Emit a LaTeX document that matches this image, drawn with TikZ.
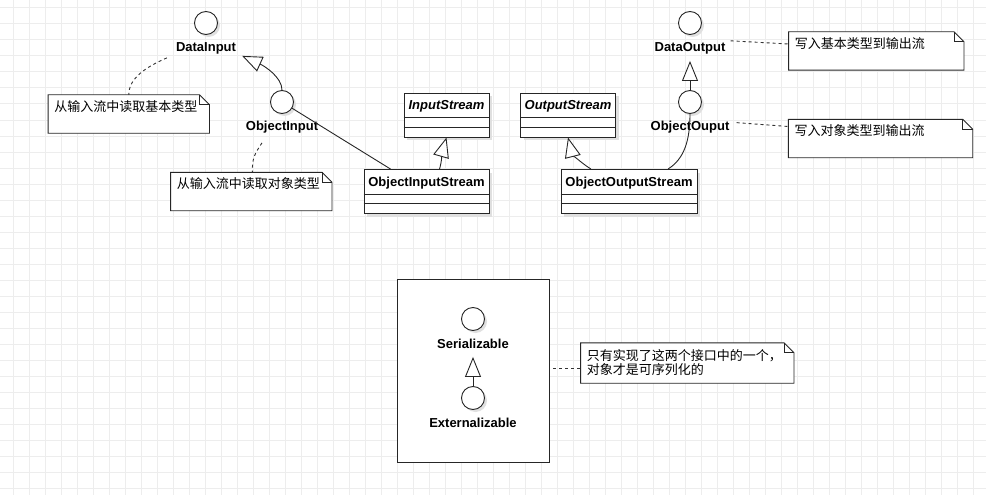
\documentclass[tikz,border=0pt]{standalone}
\usepackage{fontspec}
\setmainfont{Liberation Sans}
\newfontfamily\cjk{Noto Sans CJK SC}
\usetikzlibrary{arrows.meta,shadows}

\tikzset{
  gridline/.style={gray!14, line width=1pt},
  link/.style={black!85, line width=0.9pt},
  iface/.style={circle, draw=black!85, line width=0.9pt, fill=white,
    minimum size=23pt, inner sep=0pt,
    drop shadow={fill=black!12, opacity=1, shadow xshift=2.5pt, shadow yshift=-2.5pt}},
  ifacename/.style={anchor=base, inner sep=1pt, font=\bfseries\fontsize{13}{15}\selectfont},
  classbox/.style={rectangle, draw=black!85, line width=0.9pt, fill=white,
    inner sep=0pt, minimum height=44pt,
    drop shadow={fill=black!12, opacity=1, shadow xshift=3pt, shadow yshift=-3pt}},
  classname/.style={anchor=base, inner sep=0pt, font=\bfseries\fontsize{13}{15}\selectfont},
  notebox/.style={rectangle, inner sep=0pt},
  notetext/.style={anchor=base west, inner sep=0pt, align=left,
    font=\cjk\fontsize{13}{14}\selectfont},
  inherit/.style={link, -{Triangle[length=20pt, width=16pt, fill=white]}},
  noteline/.style={black!80, line width=0.9pt, dash pattern=on 3pt off 3pt},
}

\begin{document}
\begin{tikzpicture}[x=1pt, y=-1pt]
  \useasboundingbox (0,0) rectangle (986,495);
  % grid
  \foreach \gx in {13,29,...,989}
    \draw[gridline] (\gx,0) -- (\gx,495);
  \foreach \gy in {8,24,...,488}
    \draw[gridline] (0,\gy) -- (986,\gy);

  % serialization frame
  \node[rectangle, draw=black!85, line width=0.9pt, fill=white,
    minimum width=152pt, minimum height=183pt] (frame) at (473,371) {};

  % interfaces
  \foreach \nm/\cx/\cy/\txt in {%
    di/206/23/DataInput,
    oi/282/102/ObjectInput,
    do/690/23/DataOutput,
    oo/690/102/ObjectOuput,
    ser/473/319/Serializable,
    ext/473/398/Externalizable
    } {
    \node[iface] (\nm) at (\cx,\cy) {};
    \node[ifacename] (\nm lbl) at (\cx,\cy+29) {\txt};
  }

  % classes
  \foreach \nm/\cx/\cy/\w/\txt in {%
    is/446.5/115/85pt/\textit{InputStream},
    ois/426.5/191.5/125pt/ObjectInputStream,
    os/568/115/95pt/\textit{OutputStream},
    oos/629/191.5/136pt/ObjectOutputStream
    } {
    \node[classbox, minimum width=\w] (\nm) at (\cx,\cy) {};
    \draw[link] ([yshift=-25pt]\nm.north west) -- ([yshift=-25pt]\nm.north east)
      ([yshift=-34.5pt]\nm.north west) -- ([yshift=-34.5pt]\nm.north east);
    \node[classname] (\nm lbl) at ([yshift=-17pt]\nm.north) {\txt};
  }

  % notes
  \foreach \nm/\cx/\cy/\w/\h in {%
    note1/128.8/114/161pt/38pt,
    note2/251.3/191.5/161pt/38pt,
    note3/876.3/51/175pt/38pt,
    note4/880.5/138.5/184pt/38pt,
    note5/687.3/363/213pt/40pt
    } {
    \node[notebox, minimum width=\w, minimum height=\h] (\nm) at (\cx,\cy) {};
    \draw[link, fill=white] (\nm.north west) -- ([xshift=-10pt]\nm.north east)
      -- ([yshift=-10pt]\nm.north east) -- (\nm.south east) -- (\nm.south west) -- cycle;
    \draw[link] ([xshift=-10pt]\nm.north east) -- ([shift={(-10pt,-10pt)}]\nm.north east)
      -- ([yshift=-10pt]\nm.north east);
  }
  \node[notetext] (note1txt) at ([shift={(6pt,-16.5pt)}]note1.north west) {从输入流中读取基本类型};
  \node[notetext] (note2txt) at ([shift={(6pt,-16.5pt)}]note2.north west) {从输入流中读取对象类型};
  \node[notetext] (note3txt) at ([shift={(6pt,-16.5pt)}]note3.north west) {写入基本类型到输出流};
  \node[notetext] (note4txt) at ([shift={(6pt,-16.5pt)}]note4.north west) {写入对象类型到输出流};
  \node[notetext, anchor=north west] (note5txt) at ([shift={(6pt,-6pt)}]note5.north west)
    {只有实现了这两个接口中的一个，\\对象才是可序列化的};

  % generalizations
  \draw[inherit] (oi.north) .. controls +(0,-13) and +(22,10) .. ([xshift=5pt]dilbl.south east);
  \draw[inherit] (oo.north) -- ([yshift=-26pt]do.south);
  \draw[inherit] (ext.north) -- ([yshift=-26pt]ser.south);
  \draw[inherit] ([xshift=13pt]ois.north) .. controls +(2,-6) and +(-4,14) .. (is.south);
  \draw[inherit] ([xshift=-38pt]oos.north) .. controls +(-10,-6) and +(4,16) .. (os.south);

  % realizations
  \draw[link] (oi) -- ([xshift=27pt]ois.north west);
  \draw[link] (oo.south) .. controls +(0,27) and +(16,-10) .. ([xshift=39pt]oos.north);

  % note anchors
  \draw[noteline] ([shift={(-8pt,-2pt)}]dilbl.south west) .. controls +(-18,8) and +(0,-18) .. (note1.north);
  \draw[noteline] ([shift={(-20pt,-8pt)}]oilbl.south) .. controls +(-8,12) and +(0,-14) .. ([xshift=1pt]note2.north);
  \draw[noteline] ([shift={(4pt,8pt)}]dolbl.east) -- ([yshift=7pt]note3.west);
  \draw[noteline] ([shift={(6pt,5pt)}]oolbl.east) -- ([yshift=12pt]note4.west);
  \draw[noteline] ([shift={(4pt,3pt)}]frame.east) -- ([shift={(0,-5pt)}]note5.west);
\end{tikzpicture}
\end{document}
